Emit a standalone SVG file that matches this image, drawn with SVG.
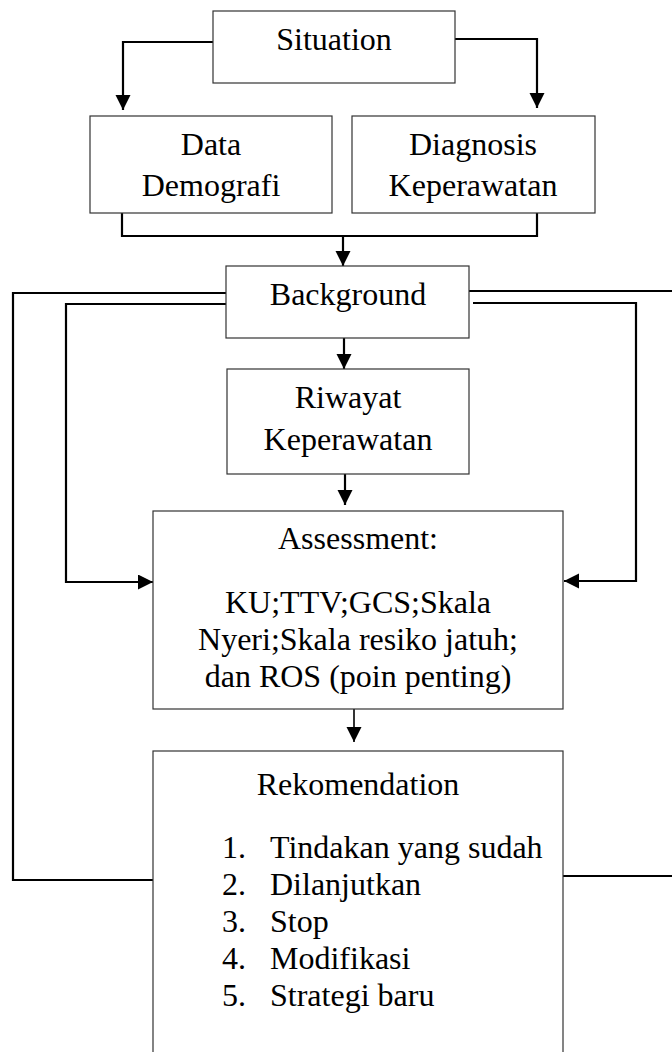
<svg xmlns="http://www.w3.org/2000/svg" width="672" height="1052" viewBox="0 0 672 1052">
<style>
.box{fill:#fff;stroke:#333;stroke-width:1.2}
.t{font-family:"Liberation Serif","Times New Roman",serif;font-size:32px;fill:#000}
.c{text-anchor:middle}
.con{fill:none;stroke:#000;stroke-width:2.2}
.thin{fill:none;stroke:#000;stroke-width:1.6}
</style>
<defs>
<marker id="ah" markerUnits="userSpaceOnUse" markerWidth="16" markerHeight="16" refX="15" refY="7.5" orient="auto">
<path d="M0,0 L15,7.5 L0,15 z" fill="#000"/>
</marker>
</defs>
<rect width="672" height="1052" fill="#fff"/>
<g id="connectors">
<polyline class="con" points="213,42 123,42 123,110" marker-end="url(#ah)"/>
<polyline class="con" points="455,39 537,39 537,108" marker-end="url(#ah)"/>
<polyline class="con" points="122,213 122,236 537,236 537,213"/>
<line class="con" x1="343" y1="236" x2="343" y2="266" marker-end="url(#ah)"/>
<polyline class="con" points="226,293 13,293 13,880 153,880"/>
<polyline class="con" points="226,304 66,304 66,582 153,582" marker-end="url(#ah)"/>
<line class="con" x1="469" y1="291" x2="672" y2="291"/>
<polyline class="con" points="473,303 636,303 636,581 564,581" marker-end="url(#ah)"/>
<line class="con" x1="563" y1="876" x2="672" y2="876"/>
<line class="con" x1="344" y1="338" x2="344" y2="369" marker-end="url(#ah)"/>
<line class="con" x1="345" y1="474" x2="345" y2="505" marker-end="url(#ah)"/>
<line class="thin" x1="354" y1="709" x2="354" y2="742" marker-end="url(#ah)"/>
</g>
<g id="situation">
<rect class="box" x="213" y="11" width="242" height="72"/>
<text class="t c" x="334" y="50">Situation</text>
</g>
<g id="data-demografi">
<rect class="box" x="90" y="116" width="242" height="97"/>
<text class="t c" x="211" y="155">Data</text>
<text class="t c" x="211" y="196">Demografi</text>
</g>
<g id="diagnosis-keperawatan">
<rect class="box" x="352" y="116" width="243" height="97"/>
<text class="t c" x="473" y="155">Diagnosis</text>
<text class="t c" x="473" y="196">Keperawatan</text>
</g>
<g id="background">
<rect class="box" x="226" y="266" width="243" height="72"/>
<text class="t c" x="348" y="305">Background</text>
</g>
<g id="riwayat-keperawatan">
<rect class="box" x="227" y="369" width="242" height="105"/>
<text class="t c" x="348" y="408">Riwayat</text>
<text class="t c" x="348" y="450">Keperawatan</text>
</g>
<g id="assessment">
<rect class="box" x="153" y="511" width="410" height="198"/>
<text class="t c" x="358" y="549">Assessment:</text>
<text class="t c" x="358" y="613">KU;TTV;GCS;Skala</text>
<text class="t c" x="358" y="650">Nyeri;Skala resiko jatuh;</text>
<text class="t c" x="358" y="687">dan ROS (poin penting)</text>
</g>
<g id="rekomendation">
<rect class="box" x="153" y="751" width="410" height="320"/>
<text class="t c" x="358" y="795">Rekomendation</text>
<text class="t" x="222" y="858">1.</text><text class="t" x="270" y="858">Tindakan yang sudah</text>
<text class="t" x="222" y="895">2.</text><text class="t" x="270" y="895">Dilanjutkan</text>
<text class="t" x="222" y="932">3.</text><text class="t" x="270" y="932">Stop</text>
<text class="t" x="222" y="969">4.</text><text class="t" x="270" y="969">Modifikasi</text>
<text class="t" x="222" y="1006">5.</text><text class="t" x="270" y="1006">Strategi baru</text>
</g>
</svg>
